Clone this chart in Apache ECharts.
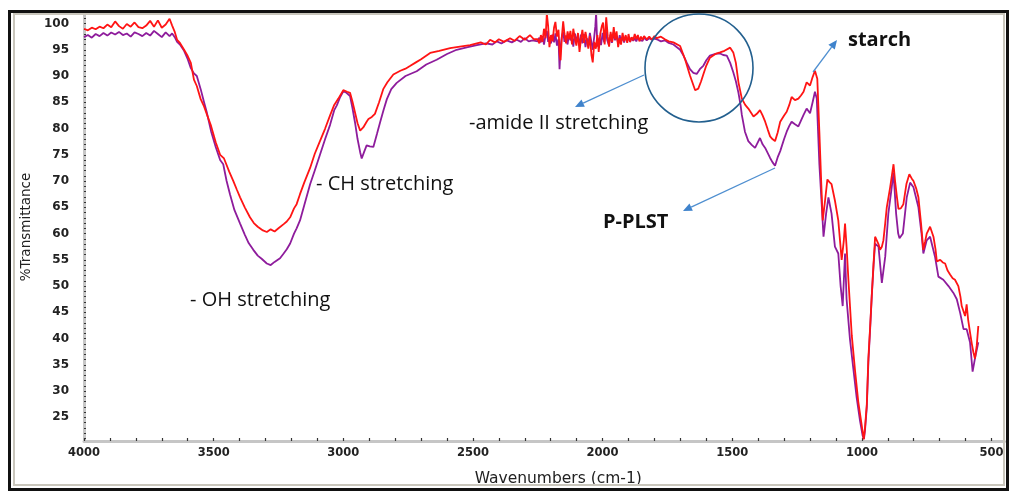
<!DOCTYPE html>
<html>
<head>
<meta charset="utf-8">
<script src="https://cdn.jsdelivr.net/npm/echarts@6/dist/echarts.min.js"></script>
<style>
  html, body { margin: 0; padding: 0; background: #ffffff; }
  #chart { width: 1010px; height: 492px; }
</style>
</head>
<body>
<div id="chart"></div>
<script>
// FTIR spectra: [wavenumber (cm-1), %Transmittance]
const starch = [
  [4000,99.0],[3985,98.7],[3970,99.2],[3955,98.9],[3940,99.4],[3925,99.1],[3910,99.8],[3895,99.3],
  [3880,100.4],[3865,99.5],[3850,99.0],[3835,99.9],[3820,99.4],[3805,100.2],[3790,99.3],[3775,99.1],
  [3760,99.6],[3745,100.5],[3730,99.4],[3715,100.6],[3700,99.2],[3685,99.8],[3670,100.9],[3660,99.6],
  [3650,98.4],[3641,96.9],[3630,96.3],[3614,95.0],[3600,93.8],[3588,92.5],[3576,89.3],[3565,88.1],
  [3550,85.6],[3537,84.2],[3524,82.4],[3510,80.5],[3492,77.4],[3475,75.0],[3460,74.3],[3440,71.8],
  [3424,70.0],[3410,68.3],[3398,66.9],[3380,65.0],[3360,63.1],[3345,62.0],[3330,61.3],[3310,60.6],
  [3295,60.3],[3280,60.8],[3265,60.4],[3250,61.0],[3244,60.9],[3230,61.8],[3218,62.3],[3205,63.1],
  [3190,64.8],[3180,65.6],[3167,67.5],[3150,69.8],[3128,72.5],[3110,75.2],[3090,77.6],[3070,80.0],
  [3051,82.5],[3035,84.5],[3019,85.7],[3000,87.3],[2985,87.0],[2974,86.8],[2965,85.2],[2955,83.1],
  [2945,81.0],[2935,79.6],[2923,80.2],[2910,81.3],[2903,81.8],[2890,82.2],[2878,82.8],[2862,85.0],
  [2846,87.5],[2830,88.8],[2807,90.3],[2780,91.0],[2760,91.4],[2743,91.9],[2720,92.6],[2700,93.2],
  [2665,94.4],[2630,94.8],[2588,95.3],[2550,95.6],[2511,95.9],[2470,96.4],[2450,96.0],[2434,96.9],
  [2415,96.4],[2400,97.0],[2380,96.5],[2357,97.2],[2340,96.7],[2320,97.6],[2300,96.9],[2280,97.8],
  [2265,97.0],[2250,97.0],[2244,96.2],[2238,97.8],[2232,96.5],[2226,99.0],[2220,97.2],[2215,101.9],
  [2210,99.5],[2205,95.5],[2199,97.8],[2193,96.6],[2187,99.3],[2182,100.3],[2176,97.5],[2170,98.8],
  [2165,94.0],[2162,93.0],[2157,97.5],[2152,100.4],[2147,98.0],[2141,96.2],[2135,98.5],[2130,97.0],
  [2124,98.6],[2118,96.0],[2113,99.0],[2107,97.2],[2101,95.8],[2095,98.2],[2089,94.6],[2084,96.8],
  [2078,98.8],[2072,96.3],[2066,98.4],[2061,97.0],[2055,95.2],[2049,97.6],[2043,94.0],[2038,92.6],
  [2032,96.5],[2026,95.2],[2020,97.8],[2015,94.6],[2009,98.0],[2003,99.5],[1998,100.2],[1992,96.0],
  [1986,101.2],[1980,97.5],[1975,95.6],[1969,98.4],[1963,96.5],[1957,99.3],[1952,97.0],[1946,98.5],
  [1940,95.5],[1934,97.2],[1929,96.0],[1923,98.2],[1917,96.6],[1911,97.8],[1905,96.3],[1900,98.0],
  [1894,96.5],[1888,97.4],[1882,96.8],[1876,98.0],[1870,97.0],[1864,97.8],[1858,96.6],[1852,97.5],
  [1846,96.9],[1840,97.6],[1830,97.0],[1820,97.5],[1810,96.9],[1800,97.6],[1791,97.2],[1775,97.5],
  [1760,97.0],[1745,96.6],[1727,96.4],[1701,95.7],[1682,93.2],[1663,90.1],[1643,87.3],
  [1631,87.6],[1620,89.0],[1611,90.4],[1600,92.0],[1586,93.5],[1565,94.2],[1547,94.5],[1530,94.8],
  [1508,95.4],[1496,94.5],[1486,92.5],[1476,88.8],[1463,85.7],[1450,84.5],[1438,83.8],[1418,82.3],
  [1405,82.8],[1393,83.5],[1383,82.5],[1373,81.3],[1363,79.8],[1354,78.5],[1345,78.0],[1335,77.6],
  [1325,79.2],[1315,81.3],[1300,82.5],[1290,83.2],[1280,84.5],[1271,86.0],[1258,85.4],[1245,85.7],
  [1235,86.3],[1225,87.0],[1213,88.8],[1200,88.2],[1190,89.8],[1181,91.0],[1172,89.5],[1164,79.4],
  [1157,70.0],[1151,62.5],[1142,66.3],[1133,70.3],[1125,69.8],[1117,69.4],[1104,66.3],[1091,62.5],
  [1078,55.0],[1070,58.5],[1065,61.9],[1059,57.5],[1052,51.2],[1039,40.6],[1026,33.7],[1014,28.0],
  [1001,23.6],[993,20.8],[988,23.0],[981,27.5],[975,36.2],[968,42.4],[962,48.1],[955,54.3],
  [949,59.4],[943,59.7],[936,58.0],[930,56.9],[923,57.5],[917,58.7],[910,62.0],[904,65.0],
  [891,68.8],[878,73.2],[872,70.0],[865,67.0],[859,64.7],[850,64.8],[840,65.6],[828,69.5],
  [817,71.3],[808,70.5],[801,70.0],[790,68.5],[782,66.9],[772,62.0],[763,56.9],[756,58.5],
  [750,60.0],[737,61.3],[724,59.4],[716,57.0],[711,54.7],[698,55.0],[688,54.5],[679,54.3],
  [670,53.0],[660,52.2],[650,51.5],[641,51.2],[628,50.0],[620,48.0],[615,46.2],[602,44.3],
  [596,46.5],[590,43.5],[583,41.2],[576,39.0],[570,37.4],[564,36.2],[557,38.7],[551,42.4]
];

const pplst = [
  [4000,97.4],[3985,97.8],[3970,97.3],[3955,98.0],[3940,97.6],[3925,98.2],[3910,97.7],[3895,98.3],
  [3880,97.9],[3865,98.4],[3850,97.8],[3835,98.1],[3820,97.5],[3805,98.3],[3790,98.0],[3775,97.6],
  [3760,98.2],[3745,97.7],[3730,98.6],[3715,98.0],[3700,97.4],[3685,98.3],[3670,97.6],[3660,98.1],
  [3650,97.4],[3641,96.5],[3630,96.0],[3614,94.8],[3600,93.2],[3588,91.5],[3576,90.5],[3565,90.0],
  [3550,87.5],[3537,85.0],[3527,83.2],[3510,79.5],[3492,76.5],[3475,74.0],[3463,73.2],[3450,70.0],
  [3437,67.5],[3420,64.5],[3398,61.9],[3380,59.8],[3365,58.2],[3347,56.9],[3330,55.8],[3315,55.2],
  [3295,54.3],[3280,54.0],[3265,54.6],[3244,55.3],[3230,56.2],[3218,57.0],[3205,58.1],[3190,60.0],
  [3180,61.0],[3167,62.5],[3150,65.5],[3128,69.4],[3110,72.0],[3090,75.0],[3070,78.0],[3051,80.7],
  [3035,83.5],[3025,84.4],[3012,86.0],[3000,87.1],[2990,86.9],[2974,86.2],[2965,84.0],[2955,81.2],
  [2945,78.0],[2935,75.5],[2929,74.3],[2920,75.5],[2910,76.8],[2898,76.6],[2884,76.5],[2870,79.0],
  [2858,81.2],[2845,83.5],[2832,85.6],[2815,87.5],[2794,88.7],[2760,90.0],[2717,90.9],[2680,92.2],
  [2640,93.1],[2600,94.2],[2563,95.0],[2520,95.5],[2485,95.9],[2450,96.2],[2425,96.0],[2408,96.6],
  [2390,96.2],[2370,96.8],[2350,96.4],[2331,96.9],[2315,96.5],[2300,97.2],[2285,96.6],[2270,96.8],
  [2250,96.6],[2244,97.3],[2238,96.4],[2232,97.6],[2226,96.0],[2220,97.8],[2215,98.6],[2210,96.5],
  [2205,97.4],[2199,96.2],[2193,97.9],[2187,96.4],[2182,98.1],[2176,95.8],[2170,97.0],[2166,91.3],
  [2162,95.5],[2157,97.6],[2152,98.4],[2147,96.5],[2141,97.7],[2135,96.0],[2130,98.0],[2124,96.8],
  [2118,97.5],[2113,95.6],[2107,98.1],[2101,96.8],[2095,97.6],[2089,95.8],[2084,97.9],[2078,96.2],
  [2072,98.0],[2066,95.5],[2061,97.2],[2055,96.0],[2049,98.2],[2043,96.4],[2038,95.0],[2032,97.6],
  [2028,99.5],[2025,102.0],[2022,98.0],[2018,95.6],[2012,97.3],[2006,95.9],[2000,98.2],[1994,96.4],
  [1988,98.8],[1982,96.8],[1976,95.9],[1970,97.9],[1964,96.3],[1958,98.3],[1952,96.8],[1946,97.6],
  [1940,96.2],[1934,97.8],[1929,96.6],[1923,97.3],[1917,96.4],[1911,97.5],[1905,96.8],[1900,97.2],
  [1894,96.5],[1888,97.3],[1882,96.7],[1876,97.2],[1870,96.6],[1864,97.4],[1858,96.9],[1852,97.1],
  [1846,96.7],[1840,97.3],[1830,96.8],[1820,97.2],[1810,96.9],[1800,97.1],[1791,97.0],[1775,96.6],
  [1760,96.8],[1745,96.3],[1727,96.0],[1701,95.0],[1688,93.9],[1675,92.5],[1663,91.3],[1650,90.6],
  [1637,90.4],[1625,91.3],[1611,92.0],[1600,93.0],[1586,93.9],[1565,94.2],[1547,94.3],[1535,94.0],
  [1521,93.9],[1508,92.5],[1496,90.7],[1486,89.0],[1476,86.8],[1468,84.5],[1463,82.6],[1451,79.4],
  [1438,77.6],[1425,76.9],[1412,76.3],[1400,77.5],[1393,78.2],[1383,77.0],[1373,76.3],[1363,75.3],
  [1354,74.4],[1345,73.6],[1335,72.9],[1325,74.5],[1315,75.7],[1300,78.0],[1290,79.4],[1280,80.5],
  [1271,81.3],[1258,80.8],[1245,80.4],[1235,81.5],[1225,82.6],[1213,83.8],[1200,82.9],[1190,85.0],
  [1181,87.0],[1174,85.7],[1164,73.2],[1155,65.6],[1148,59.4],[1138,63.8],[1129,66.9],[1117,63.8],
  [1104,57.5],[1091,56.2],[1082,50.0],[1074,46.2],[1065,56.2],[1059,47.5],[1046,39.9],[1033,34.3],
  [1020,28.7],[1007,24.3],[997,21.5],[992,20.9],[988,22.5],[981,27.0],[975,35.5],[968,42.0],
  [962,48.0],[955,54.0],[949,58.1],[936,57.5],[923,50.6],[910,55.6],[898,63.8],[885,68.8],
  [878,71.6],[868,63.8],[860,60.0],[855,59.1],[842,60.0],[827,66.9],[814,69.7],[801,68.8],
  [782,65.0],[770,60.0],[763,56.2],[750,58.7],[737,59.4],[718,55.6],[705,51.8],[686,51.2],
  [666,50.0],[647,48.7],[634,47.5],[621,44.9],[608,41.8],[596,41.8],[583,39.3],[573,33.7],
  [564,36.2],[551,39.3]
];

// axis ticks and labels
const xLabelValues = [500, 1000, 1500, 2000, 2500, 3000, 3500, 4000];
const xTickValues = [];
for (let v = 500; v <= 4000; v += 100) xTickValues.push(v);
const yLabelValues = [25, 30, 35, 40, 45, 50, 55, 60, 65, 70, 75, 80, 85, 90, 95, 100];
const yTickValues = [];
for (let v = 21; v <= 102; v += 1) yTickValues.push(v);

// annotations
const notes = [
  { text: '- OH stretching', x: 190, y: 300, bold: false },
  { text: '- CH stretching', x: 316, y: 184, bold: false },
  { text: '-amide II stretching', x: 469, y: 123, bold: false },
  { text: 'P-PLST', x: 603, y: 222, bold: true },
  { text: 'starch', x: 848, y: 40, bold: true }
];
const arrows = [
  { from: [644, 75], to: [575, 107] },
  { from: [813, 72], to: [837, 40] },
  { from: [775, 168], to: [683, 211] }
];

function arrowShapes(a) {
  const dx = a.to[0] - a.from[0], dy = a.to[1] - a.from[1];
  const len = Math.sqrt(dx * dx + dy * dy);
  const ux = dx / len, uy = dy / len;
  const hl = 9, hw = 4;
  const bx = a.to[0] - ux * hl, by = a.to[1] - uy * hl;
  return [
    { type: 'line', shape: { x1: a.from[0], y1: a.from[1], x2: bx, y2: by },
      style: { stroke: '#4f8fd0', lineWidth: 1.3 }, z: 100 },
    { type: 'polygon', shape: { points: [[a.to[0], a.to[1]], [bx - uy * hw, by + ux * hw], [bx + uy * hw, by - ux * hw]] },
      style: { fill: '#3f83cc' }, z: 100 }
  ];
}

const graphics = [
  // outer frame
  { type: 'rect', shape: { x: 9.5, y: 11.5, width: 998, height: 478 },
    style: { fill: null, stroke: '#111', lineWidth: 3 }, z: 50, silent: true },
  { type: 'rect', shape: { x: 14, y: 14, width: 990, height: 471 },
    style: { fill: null, stroke: '#c9c6bc', lineWidth: 2 }, z: 49, silent: true },
  // highlighted amide II region
  { type: 'circle', shape: { cx: 699, cy: 68, r: 54 },
    style: { fill: null, stroke: '#225f8e', lineWidth: 1.6 }, z: 100 }
];
arrows.forEach(a => arrowShapes(a).forEach(s => graphics.push(s)));
notes.forEach(n => graphics.push({
  type: 'text', x: n.x, y: n.y, z: 100,
  style: { text: n.text, fill: '#111', font: (n.bold ? 'bold ' : '') + '20px "Open Sans"',
           textAlign: 'left', textVerticalAlign: 'middle' }
}));

const chart = echarts.init(document.getElementById('chart'), null, { renderer: 'canvas' });
chart.setOption({
  animation: false,
  backgroundColor: '#ffffff',
  grid: { left: 84, right: 5.5, top: 13, bottom: 45.3 },
  xAxis: {
    type: 'value', inverse: true, min: 450, max: 4000,
    minInterval: 100, maxInterval: 100,
    name: 'Wavenumbers (cm-1)', nameLocation: 'middle', nameGap: 30,
    nameTextStyle: { fontFamily: 'DejaVu Sans', fontSize: 15.5, color: '#222', padding: [0, 0, 0, 28] },
    axisLine: { show: true, onZero: false, lineStyle: { color: '#c6c6c6', width: 3 } },
    axisTick: { show: true, inside: true, length: 3, customValues: xTickValues, lineStyle: { color: '#333', width: 1.2 } },
    axisLabel: {
      customValues: xLabelValues, margin: 6,
      fontFamily: 'DejaVu Sans', fontWeight: 'bold', fontSize: 11.5, color: '#222',
      formatter: v => (v % 500 === 0 ? String(v) : '')
    },
    splitLine: { show: false }
  },
  yAxis: {
    type: 'value', min: 20.5, max: 102,
    minInterval: 1, maxInterval: 1,
    name: '%Transmittance', nameLocation: 'middle', nameGap: 51, nameRotate: 90,
    nameTextStyle: { fontFamily: 'DejaVu Sans', fontSize: 13.5, color: '#222' },
    axisLine: { show: true, onZero: false, lineStyle: { color: '#c6c6c6', width: 3 } },
    axisTick: { show: true, inside: true, length: 2, customValues: yTickValues, lineStyle: { color: '#333', width: 1.2 } },
    axisLabel: {
      customValues: yLabelValues, margin: 15,
      fontFamily: 'DejaVu Sans', fontWeight: 'bold', fontSize: 12, color: '#222',
      formatter: v => (v % 5 === 0 && v >= 25 && v <= 100 ? String(v) : '')
    },
    splitLine: { show: false }
  },
  series: [
    { name: 'P-PLST', type: 'line', data: pplst, showSymbol: false, symbol: 'none',
      lineStyle: { color: '#8e1c9c', width: 1.8 }, z: 2, clip: true },
    { name: 'starch', type: 'line', data: starch, showSymbol: false, symbol: 'none',
      lineStyle: { color: '#ff1414', width: 1.8 }, z: 3, clip: true }
  ],
  graphic: graphics
});
</script>
</body>
</html>
